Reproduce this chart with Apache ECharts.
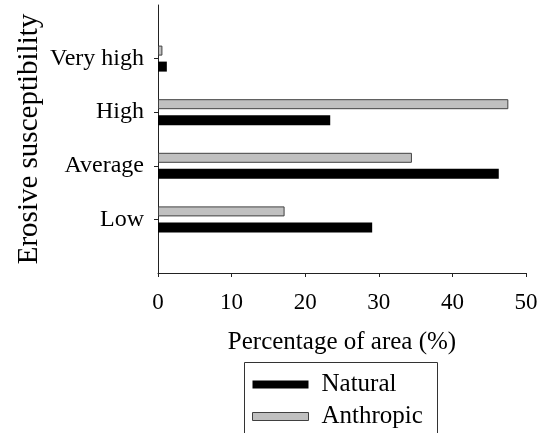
<!DOCTYPE html>
<html>
<head>
<meta charset="utf-8">
<script src="https://cdn.jsdelivr.net/npm/echarts@6/dist/echarts.min.js"></script>
<style>
  html, body { margin: 0; padding: 0; background: #fff; }
  #chart { width: 550px; height: 433px; }
</style>
</head>
<body>
<div id="chart"></div>
<script>
// categories bottom to top, with empty slots at both ends of the axis
var categories = ["", "Low", "Average", "High", "Very high", ""];
var natural = [null, 29.1, 46.3, 23.4, 1.2, null];
var anthropic = [null, 17.2, 34.5, 47.6, 0.6, null];
var xTicks = [0, 10, 20, 30, 40, 50];

var serif = "'Liberation Serif', 'Times New Roman', serif";

var chartDom = document.getElementById("chart");
var myChart = echarts.init(chartDom);
var option;

option = {
  backgroundColor: "#fff",
  animation: false,
  textStyle: { fontFamily: serif, color: "#000" },
  grid: { left: 158, right: 24, top: 5, bottom: 160, containLabel: false },
  // legend frame (runs off the bottom edge like the original)
  graphic: [
    {
      type: "rect",
      left: 244,
      top: 362,
      shape: { width: 193, height: 90 },
      style: { fill: "#fff", stroke: "#333", lineWidth: 1 },
      z: 0
    }
  ],
  legend: {
    orient: "vertical",
    left: 252,
    top: 372,
    padding: 0,
    itemGap: 7,
    itemWidth: 56,
    itemHeight: 8,
    z: 10,
    textStyle: { fontFamily: serif, fontSize: 25, color: "#000", padding: [0, 0, 0, 8] },
    data: [
      { name: "Natural", icon: "rect", itemStyle: { color: "#000", borderColor: "#000", borderWidth: 0 } },
      { name: "Anthropic", icon: "rect", itemStyle: { color: "#c0c0c0", borderColor: "#404040", borderWidth: 1 } }
    ]
  },
  xAxis: {
    type: "value",
    min: xTicks[0],
    max: xTicks[xTicks.length - 1],
    interval: 10,
    name: "Percentage of area (%)",
    nameLocation: "middle",
    nameGap: 57,
    nameMoveOverlap: false,
    nameTextStyle: { fontFamily: serif, fontSize: 25, color: "#000" },
    axisLine: { show: true, lineStyle: { color: "#222", width: 1 } },
    axisTick: { show: true, inside: false, length: 4, lineStyle: { color: "#222" } },
    axisLabel: { fontFamily: serif, fontSize: 23, color: "#000", margin: 18 },
    splitLine: { show: false }
  },
  yAxis: {
    type: "category",
    data: categories,
    boundaryGap: false,
    name: "Erosive susceptibility",
    nameLocation: "middle",
    nameGap: 114,
    nameMoveOverlap: false,
    nameTextStyle: { fontFamily: serif, fontSize: 29, color: "#000" },
    axisLine: { show: true, lineStyle: { color: "#222", width: 1 } },
    axisTick: {
      show: true,
      length: 4,
      interval: function (i) { return i > 0 && i < categories.length - 1; },
      lineStyle: { color: "#222" }
    },
    axisLabel: { fontFamily: serif, fontSize: 24, color: "#000", margin: 14, interval: 0 },
    splitLine: { show: false }
  },
  series: [
    {
      name: "Anthropic",
      type: "bar",
      data: anthropic,
      barWidth: 10,
      barGap: "60%",
      itemStyle: { color: "#c0c0c0", borderColor: "#404040", borderWidth: 1 }
    },
    {
      name: "Natural",
      type: "bar",
      data: natural,
      barWidth: 10,
      barGap: "60%",
      itemStyle: { color: "#000", borderColor: "#000", borderWidth: 0 }
    }
  ]
};

option && myChart.setOption(option);
</script>
</body>
</html>
